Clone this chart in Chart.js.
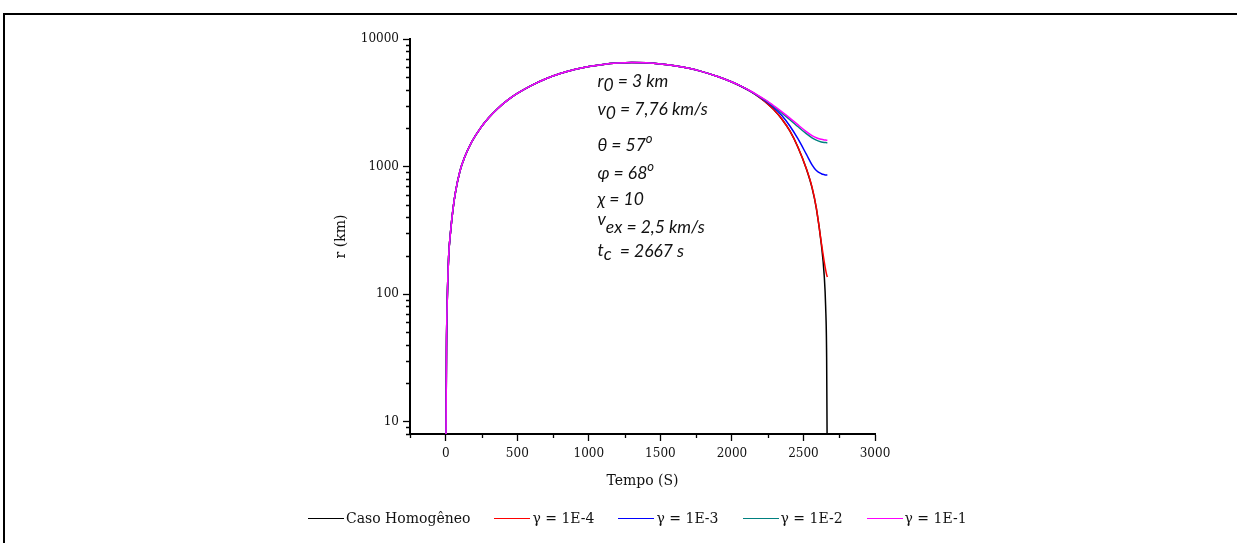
<!DOCTYPE html>
<html>
<head>
<meta charset="utf-8">
<script src="https://cdn.jsdelivr.net/npm/chart.js@4"></script>
<style>
html, body { margin: 0; padding: 0; background: #fff; }
#quadro { position: relative; width: 1237px; height: 543px; overflow: hidden; }
#moldura { position: absolute; left: 3px; top: 13px; right: 0; bottom: 0; border-top: 2px solid #000; border-left: 2px solid #000; }
#grafico { position: absolute; left: 0; top: 0; }
#legenda { position: absolute; left: 308px; top: 510px; display: flex; align-items: center; font-family: "DejaVu Serif"; font-size: 14px; color: #111; white-space: nowrap; }
.item { display: flex; align-items: center; margin-right: 24px; }
.amostra { width: 36px; height: 0; border-top: 1.5px solid; margin-right: 2px; }
</style>
</head>
<body>
<div id="quadro">
  <div id="moldura"></div>
  <canvas id="grafico" width="1237" height="543"></canvas>
  <div id="legenda"></div>
</div>
<script>
// tempo (s)
const tempo = [0, 5, 10, 20, 35, 50, 70, 100, 130, 180,
  245, 300, 360, 430, 500, 600, 700, 800, 900, 1000,
  1100, 1200, 1300, 1400, 1500, 1600, 1700, 1780, 1900, 2000,
  2060, 2130, 2200, 2250, 2290, 2350, 2405, 2460, 2520, 2560,
  2590, 2625, 2645, 2655, 2662, 2667];

// r (km) por serie
const homogeneo = [3, 38, 85, 195, 320, 460, 650, 930, 1170, 1550,
  2020, 2410, 2830, 3300, 3740, 4330, 4880, 5360, 5760, 6080,
  6320, 6470, 6540, 6500, 6380, 6180, 5900, 5600, 5080, 4600,
  4280, 3880, 3440, 3100, 2810, 2350, 1900, 1430, 960, 680,
  470, 245, 140, 80, 32, 3];
const gama4 = [3, 38, 85, 195, 320, 460, 650, 930, 1170, 1550,
  2020, 2410, 2830, 3300, 3740, 4330, 4880, 5360, 5760, 6080,
  6320, 6470, 6540, 6500, 6380, 6180, 5900, 5600, 5080, 4600,
  4280, 3880, 3440, 3100, 2810, 2350, 1900, 1430, 965, 690,
  475, 252, 180, 155, 142, 136];
const gama3 = [3, 38, 85, 195, 320, 460, 650, 930, 1170, 1550,
  2020, 2410, 2830, 3300, 3740, 4330, 4880, 5360, 5760, 6080,
  6320, 6470, 6540, 6500, 6380, 6180, 5900, 5600, 5080, 4600,
  4280, 3890, 3470, 3170, 2920, 2500, 2080, 1660, 1250, 1030,
  930, 878, 864, 860, 860, 860];
const gama2 = [3, 38, 85, 195, 320, 460, 650, 930, 1170, 1550,
  2020, 2410, 2830, 3300, 3740, 4330, 4880, 5360, 5760, 6080,
  6320, 6470, 6540, 6500, 6380, 6180, 5900, 5600, 5080, 4600,
  4290, 3900, 3490, 3220, 2970, 2620, 2330, 2060, 1810, 1680,
  1610, 1560, 1545, 1542, 1540, 1540];
const gama1 = [3, 38, 85, 195, 320, 460, 650, 930, 1170, 1550,
  2020, 2410, 2830, 3300, 3740, 4330, 4880, 5360, 5760, 6080,
  6320, 6470, 6540, 6500, 6380, 6180, 5900, 5600, 5080, 4600,
  4290, 3910, 3510, 3250, 3010, 2680, 2400, 2130, 1880, 1750,
  1680, 1635, 1618, 1612, 1610, 1610];

const rotulos = ["Caso Homogêneo", "γ = 1E-4", "γ = 1E-3", "γ = 1E-2", "γ = 1E-1"];
const cores = ["#000000", "#ff0000", "#0000ff", "#008080", "#ff00ff"];
const series = [homogeneo, gama4, gama3, gama2, gama1];

const ticksX = [0, 500, 1000, 1500, 2000, 2500, 3000];
const menoresX = [-250, 250, 750, 1250, 1750, 2250, 2750];
const ticksY = [10, 100, 1000, 10000];
const menoresY = [8, 9];
[10, 100, 1000].forEach(d => { for (let k = 2; k <= 9; k++) menoresY.push(k * d); });

// texto do canto (parâmetros da simulação)
const notas = [
  [["r", 0], ["0", 4], [" = 3 km", 0]],
  [["v", 0], ["0", 4], [" = 7,76 km/s", 0]],
  [["θ = 57", 0], ["o", -8, 13]],
  [["φ = 68", 0], ["o", -8, 13]],
  [["χ = 10", 0]],
  [["v", -8], ["ex = 2,5 km/s", 0]],
  [["t", 0], ["c", 4], ["  = 2667 s", 1]]
];
const notasY = [48, 76, 112, 140, 166, 194, 217];

const ticksMenores = {
  id: "ticksMenores",
  afterDraw(chart) {
    const { ctx, scales: { x, y } } = chart;
    ctx.save();
    ctx.strokeStyle = "#000";
    ctx.lineWidth = 1.3;
    ctx.beginPath();
    menoresX.forEach(v => {
      const px = Math.round(x.getPixelForValue(v)) + 0.5;
      ctx.moveTo(px, x.top);
      ctx.lineTo(px, x.top + 4);
    });
    menoresY.forEach(v => {
      const py = Math.round(y.getPixelForValue(v)) + 0.5;
      ctx.moveTo(y.right, py);
      ctx.lineTo(y.right - 4, py);
    });
    ctx.stroke();
    ctx.restore();
  }
};

const anotacoes = {
  id: "anotacoes",
  afterDraw(chart) {
    const { ctx, chartArea, scales: { x } } = chart;
    ctx.save();
    ctx.fillStyle = "#111";
    ctx.textBaseline = "alphabetic";
    const x0 = x.getPixelForValue(1060);
    notas.forEach((linha, i) => {
      let px = x0;
      const base = chartArea.top + notasY[i];
      linha.forEach(([txt, dy, tam]) => {
        ctx.font = "italic " + (tam || 17.5) + "px Lato, 'Open Sans', sans-serif";
        ctx.fillText(txt, px, base + dy);
        px += ctx.measureText(txt).width;
      });
    });
    ctx.restore();
  }
};

const fonteEixo = { family: "DejaVu Serif", size: 12 };
const fonteTitulo = { family: "DejaVu Serif", size: 14 };

const chart = new Chart(document.getElementById("grafico"), {
  type: "line",
  data: {
    datasets: series.map((vals, i) => ({
      label: rotulos[i],
      data: tempo.map((t, j) => ({ x: t, y: vals[j] })),
      borderColor: cores[i],
      backgroundColor: cores[i],
      borderWidth: 1.5,
      pointRadius: 0,
      cubicInterpolationMode: "monotone",
      order: series.length - i
    }))
  },
  options: {
    responsive: false,
    animation: false,
    devicePixelRatio: 1,
    layout: { padding: { left: 320, top: 39, right: 362, bottom: 49 } },
    plugins: {
      legend: { display: false },
      tooltip: { enabled: false }
    },
    scales: {
      x: {
        type: "linear",
        min: -250,
        max: 3000,
        afterBuildTicks: s => { s.ticks = ticksX.map(v => ({ value: v })); },
        afterFit: s => { s.height = 60; },
        ticks: { font: fonteEixo, color: "#111", padding: 6, maxRotation: 0, autoSkip: false, callback: v => String(v) },
        grid: { drawOnChartArea: false, drawTicks: true, tickLength: 7, tickColor: "#000", tickWidth: 1.3 },
        border: { display: true, color: "#000", width: 2 },
        title: { display: true, text: "Tempo (S)", font: fonteTitulo, color: "#111", padding: { top: 0, bottom: 4 } }
      },
      y: {
        type: "logarithmic",
        min: 8,
        max: 10000,
        afterBuildTicks: s => { s.ticks = ticksY.map(v => ({ value: v })); },
        afterFit: s => { s.width = 90; },
        ticks: { font: fonteEixo, color: "#111", padding: 4, autoSkip: false, callback: v => String(v) },
        grid: { drawOnChartArea: false, drawTicks: true, tickLength: 7, tickColor: "#000", tickWidth: 1.3 },
        border: { display: true, color: "#000", width: 2 },
        title: { display: true, text: "r (km)", font: fonteTitulo, color: "#111", padding: { top: 13, bottom: 0 } }
      }
    }
  },
  plugins: [ticksMenores, anotacoes]
});

// legenda em HTML, na ordem das séries
const legenda = document.getElementById("legenda");
chart.data.datasets.forEach(ds => {
  const item = document.createElement("div");
  item.className = "item";
  const amostra = document.createElement("span");
  amostra.className = "amostra";
  amostra.style.borderColor = ds.borderColor;
  const texto = document.createElement("span");
  texto.textContent = ds.label;
  item.appendChild(amostra);
  item.appendChild(texto);
  legenda.appendChild(item);
});
</script>
</body>
</html>
